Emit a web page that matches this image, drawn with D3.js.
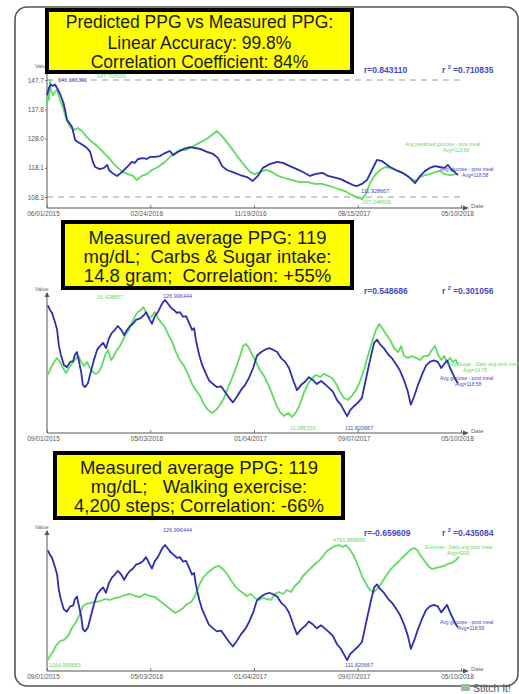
<!DOCTYPE html>
<html><head><meta charset="utf-8">
<script src="https://cdn.jsdelivr.net/npm/d3@7"></script>
<style>body{margin:0;background:#fff}svg{display:block}text{white-space:pre}</style>
</head><body><svg id="c" width="519" height="694"></svg>
<script>
// ---------------- DATA ----------------
const p1Start = "2015-06-01", p1End = "2018-05-10";
const p23Start = "2015-09-01", p23End = "2018-05-10";
const p1DateTicks = ["06/01/2015","02/24/2016","11/19/2016","08/15/2017","05/10/2018"];
const p23DateTicks = ["09/01/2015","05/03/2016","01/04/2017","09/07/2017","05/10/2018"];
const p1ValueTicks = [147.7, 137.8, 128.0, 118.1, 108.3];

const titles1 = ["Predicted PPG vs Measured PPG:", "Linear Accuracy: 99.8%", "Correlation Coefficient: 84%"];
const titles2 = ["Measured average PPG: 119", "mg/dL;  Carbs & Sugar intake:", "14.8 gram;  Correlation: +55%"];
const titles3 = ["Measured average PPG: 119", "mg/dL;   Walking exercise:", "4,200 steps; Correlation: -66%"];
const rValues = ["0.843110", "0.548686", "-0.659609"];
const r2Values = ["0.710835", "0.301056", "0.435084"];

// [days since start, value]
const p1Blue = [[0,142.6],[5,145.0],[10,146.2],[16,145.7],[21,146.2],[26,145.0],[34,143.0],[42,140.3],[47,137.6],[52,134.2],[60,132.9],[65,131.9],[73,127.5],[80,126.8],[93,125.8],[104,124.8],[112,123.5],[119,120.1],[125,118.4],[137,117.7],[148,118.1],[156,119.1],[161,117.4],[169,116.4],[182,115.4],[189,116.1],[200,117.4],[210,118.7],[220,120.1],[228,119.8],[236,121.1],[249,121.4],[259,121.1],[267,121.8],[280,121.8],[293,122.1],[306,123.1],[319,123.8],[327,122.4],[332,122.8],[340,123.5],[355,124.5],[371,125.1],[384,124.8],[397,124.5],[415,123.5],[431,122.8],[444,121.4],[454,118.7],[467,117.4],[482,116.7],[501,115.7],[519,115.0],[534,113.7],[547,115.4],[560,118.1],[578,119.4],[597,120.1],[612,119.8],[630,118.7],[648,117.7],[664,116.7],[682,115.4],[698,116.1],[716,116.4],[729,115.4],[742,115.0],[760,114.4],[778,113.3],[794,112.3],[804,112.0],[817,112.7],[830,114.0],[843,117.4],[856,120.8],[869,120.4],[879,119.4],[890,118.4],[905,117.4],[923,116.4],[939,115.0],[955,113.0],[968,115.4],[981,117.1],[993,118.1],[1006,118.7],[1019,118.4],[1032,118.1],[1040,119.1],[1048,117.7],[1058,116.7],[1066,115.7]];
const p1Green = [[0,139.3],[3,143.7],[5,141.0],[8,147.7],[10,144.3],[16,142.6],[21,143.7],[26,144.3],[34,141.0],[42,138.3],[49,134.9],[60,131.9],[70,130.9],[80,131.5],[91,130.5],[101,128.8],[117,126.8],[130,125.5],[145,123.5],[158,121.8],[174,119.4],[184,118.1],[197,116.7],[210,116.0],[223,115.4],[233,114.0],[246,115.4],[259,116.0],[272,117.4],[288,118.4],[306,120.1],[319,121.8],[332,123.1],[345,124.1],[358,124.1],[371,124.8],[389,126.1],[405,127.2],[418,128.2],[431,129.5],[441,130.5],[451,129.2],[464,127.2],[480,124.5],[495,121.8],[511,119.1],[527,116.7],[540,116.0],[552,116.7],[568,117.4],[584,116.7],[599,115.4],[617,114.7],[636,114.0],[656,113.3],[677,113.3],[695,112.7],[713,112.7],[734,112.0],[755,111.0],[773,110.3],[791,109.0],[807,108.0],[817,107.6],[827,109.3],[838,113.0],[851,115.7],[864,117.4],[877,118.4],[890,118.1],[903,117.4],[916,116.7],[929,116.0],[942,114.7],[955,113.7],[968,115.0],[981,115.7],[993,116.0],[1006,116.7],[1019,117.1],[1032,116.0],[1045,115.7],[1063,116.0]];

const p23Blue = [[2,126.3],[7,125.7],[12,125.3],[19,124.1],[24,123.1],[28,121.1],[33,119.8],[40,118.5],[47,118.2],[55,118.9],[62,119.0],[66,119.8],[71,120.2],[76,118.9],[81,117.6],[85,115.9],[90,115.6],[97,116.1],[104,117.6],[111,119.1],[119,120.5],[126,121.0],[133,121.4],[140,120.7],[147,122.0],[154,122.7],[161,123.1],[168,123.6],[176,123.1],[183,122.4],[190,123.1],[197,123.6],[204,123.9],[211,124.4],[221,124.6],[228,124.9],[235,125.4],[242,124.6],[249,123.9],[256,124.9],[263,125.4],[270,126.2],[275,126.7],[280,127.0],[287,126.5],[294,126.0],[301,125.7],[308,125.3],[315,125.4],[323,124.8],[330,124.9],[337,124.0],[344,123.1],[349,123.3],[353,121.8],[361,119.8],[368,118.5],[375,117.6],[384,116.5],[394,116.0],[403,115.6],[413,115.7],[422,115.0],[432,114.2],[441,113.6],[451,114.4],[460,115.2],[470,115.9],[479,116.8],[489,118.1],[498,119.7],[508,120.2],[517,120.5],[527,120.7],[536,120.5],[546,120.2],[555,119.4],[565,118.9],[574,118.1],[584,116.5],[593,115.2],[603,115.9],[612,116.3],[621,116.9],[631,116.5],[640,116.0],[650,116.4],[659,116.0],[669,115.5],[678,115.0],[688,113.9],[697,113.3],[707,112.3],[712,111.8],[719,112.6],[728,113.1],[738,113.6],[747,114.2],[754,116.0],[761,117.8],[769,119.8],[776,121.4],[783,121.8],[790,121.2],[799,120.7],[809,119.9],[818,119.4],[828,118.6],[837,117.8],[847,116.5],[856,115.0],[863,113.3],[871,114.4],[880,115.9],[890,117.3],[899,118.4],[908,118.9],[918,119.1],[927,118.9],[935,118.1],[942,118.6],[949,119.1],[956,118.1],[963,117.3],[970,116.5],[975,116.1]];
const p2Green = [[2,13.28],[9,13.60],[17,13.88],[24,14.07],[31,13.88],[38,13.60],[45,13.37],[52,13.60],[59,13.79],[66,13.97],[74,14.16],[81,13.88],[88,13.70],[95,13.88],[102,13.60],[109,13.42],[116,13.33],[123,13.42],[130,13.70],[138,14.21],[145,14.44],[152,13.97],[159,14.16],[166,14.44],[173,14.62],[180,14.90],[187,15.18],[194,15.36],[202,15.73],[209,16.01],[216,16.20],[223,16.29],[228,16.43],[235,16.20],[242,15.92],[249,16.01],[256,16.20],[263,15.92],[270,15.73],[278,15.55],[287,15.18],[297,14.81],[306,14.34],[315,13.97],[325,13.70],[334,13.33],[344,12.86],[353,12.58],[363,12.31],[372,11.93],[382,11.66],[391,11.52],[401,11.66],[410,11.89],[420,12.21],[429,12.68],[439,13.14],[448,13.60],[458,14.16],[465,14.62],[472,14.72],[479,14.53],[486,14.25],[496,13.88],[505,13.51],[515,13.23],[524,12.86],[534,12.40],[543,11.93],[553,11.56],[562,11.38],[572,11.52],[581,11.33],[591,11.56],[600,11.93],[610,12.49],[619,12.86],[629,13.14],[638,13.28],[648,13.19],[657,13.33],[667,13.23],[676,13.14],[686,12.86],[695,12.49],[704,12.21],[714,12.12],[723,12.31],[733,12.58],[742,12.96],[752,13.51],[761,14.16],[771,14.81],[780,15.36],[788,15.64],[795,15.45],[804,15.18],[814,14.90],[823,14.53],[833,14.34],[840,14.62],[847,14.16],[856,14.07],[866,14.16],[875,14.07],[885,13.97],[894,14.16],[904,14.16],[913,14.44],[920,14.62],[927,14.25],[935,13.97],[942,14.16],[949,13.88],[956,14.07],[963,13.88],[970,13.97],[975,13.74]];
const p3Green = [[2,1165],[7,1291],[14,1417],[21,1606],[31,1764],[40,1796],[50,1922],[59,2174],[69,2363],[78,2615],[85,2868],[93,2931],[102,2962],[114,2994],[126,3025],[138,3088],[149,3057],[161,3120],[173,3151],[185,3214],[197,3246],[209,3183],[221,3151],[232,3246],[244,3183],[256,3151],[268,3025],[280,2899],[292,2773],[304,2647],[313,2710],[323,2805],[332,2931],[342,2994],[351,3183],[361,3530],[370,3750],[380,3908],[389,4003],[398,4097],[408,4129],[417,4034],[427,3876],[436,3687],[446,3498],[455,3372],[465,3278],[474,3183],[484,3246],[493,3120],[503,3057],[512,3120],[522,3088],[531,3057],[541,3246],[550,3309],[560,3246],[569,3372],[579,3309],[588,3498],[598,3624],[607,3813],[617,3940],[626,4066],[636,4192],[645,4287],[655,4444],[664,4602],[674,4696],[683,4759],[693,4791],[702,4728],[709,4791],[719,4633],[728,4444],[738,4129],[747,3813],[757,3561],[766,3372],[776,3309],[785,3435],[795,3624],[804,3813],[814,4003],[823,4129],[833,4255],[842,4381],[852,4507],[861,4633],[871,4696],[878,4633],[885,4476],[894,4318],[904,4129],[913,4034],[923,4066],[932,4097],[942,4129],[951,4192],[961,4224],[970,4318],[977,4413]];

// annotation texts
const p1Notes = ["146.166391","147.700000","111.928667","107.248606"];
const p2Notes = ["16.428857","126.996444","11.285333","111.820667"];
const p3Notes = ["126.996444","4790.888889","1164.995883","111.820667"];
const p1Legend = ["Avg predicted glucose - post meal","Avg=118.60","Avg glucose - post meal","Avg=118.58"];
const p2Legend = ["Avg Sugar - Daily avg post meal","Avg=14.78","Avg glucose - post meal","Avg=118.58"];
const p3Legend = ["Exercise - Daily avg post meal","Avg=4200","Avg glucose - post meal","Avg=118.58"];

// ---------------- DRAW ----------------
const F = "'Liberation Sans', Arial, Helvetica, sans-serif";
const BLUE = "#2e2eb0", GREEN = "#5fdc5f", BLUE_T = "#4848cc", GREEN_T = "#6ad86a";
const svg = d3.select("#c");
const parseTick = d3.timeParse("%m/%d/%Y");

svg.append("rect").attr("x",15).attr("y",7).attr("width",503).attr("height",679)
  .attr("rx",12).attr("fill","none").attr("stroke","#555").attr("stroke-width",1.6);

function drawPanel(P){
  const t0 = new Date(P.start+"T00:00:00"), t1 = new Date(P.end+"T00:00:00");
  const x = d3.scaleTime().domain([t0,t1]).range([47,461]);
  const dt = d => d3.timeDay.offset(t0, d);
  const g = svg.append("g");

  (P.dashed||[]).forEach(v=>{
    g.append("line").attr("x1",47).attr("x2",461).attr("y1",P.yB(v)).attr("y2",P.yB(v))
      .attr("stroke","#9a9a9a").attr("stroke-width",1).attr("stroke-dasharray","6,5");
  });

  g.append("line").attr("x1",47).attr("x2",47).attr("y1",P.axisTop).attr("y2",P.axisY)
    .attr("stroke","#555").attr("stroke-width",1);
  g.append("path").attr("d",`M44.5,${P.axisTop+4}L47,${P.axisTop-1}L49.5,${P.axisTop+4}Z`).attr("fill","#555");
  g.append("line").attr("x1",47).attr("x2",465).attr("y1",P.axisY).attr("y2",P.axisY)
    .attr("stroke","#555").attr("stroke-width",1);
  g.append("path").attr("d",`M463,${P.axisY-2.5}L469,${P.axisY}L463,${P.axisY+2.5}Z`).attr("fill","#555");
  g.append("text").attr("x",471).attr("y",P.axisY).text("Date")
    .attr("font-family",F).attr("font-size",6).attr("fill","#666");
  g.append("text").attr("x",35).attr("y",P.axisTop-2).text("Value")
    .attr("font-family",F).attr("font-size",5.5).attr("fill","#666");

  const ax = d3.axisBottom(x).tickValues(P.ticks.map(parseTick))
    .tickFormat(d3.timeFormat("%m/%d/%Y")).tickSize(-3).tickPadding(3);
  const axG = g.append("g").attr("transform",`translate(0,${P.axisY})`).call(ax);
  axG.select(".domain").remove();
  axG.selectAll("line").attr("stroke","#777");
  axG.selectAll("text").attr("font-family",F).attr("font-size",6.5).attr("fill","#555").attr("dx",-4);

  if (P.yTicks){
    const ay = d3.axisLeft(P.yB).tickValues(P.yTicks).tickFormat(d3.format(".1f")).tickSize(2).tickPadding(1);
    const ayG = g.append("g").attr("transform","translate(47,0)").call(ay);
    ayG.select(".domain").remove();
    ayG.selectAll("line").attr("stroke","#777");
    ayG.selectAll("text").attr("font-family",F).attr("font-size",6.5).attr("fill","#555");
  }

  const lineG = d3.line().x(d=>x(dt(d[0]))).y(d=>P.yG(d[1]));
  const lineB = d3.line().x(d=>x(dt(d[0]))).y(d=>P.yB(d[1]));
  g.append("path").attr("d",lineG(P.green)).attr("fill","none").attr("stroke",GREEN).attr("stroke-width",1.8).attr("stroke-linejoin","round");
  g.append("path").attr("d",lineB(P.blue)).attr("fill","none").attr("stroke",BLUE).attr("stroke-width",1.8).attr("stroke-linejoin","round");

  P.notes.forEach((t,i)=>{
    const L = P.notePos[i];
    g.append("text").attr("x",L[0]).attr("y",L[1]).text(t)
      .attr("font-family",F).attr("font-size",5.5).attr("fill",L[2]==="g"?GREEN_T:BLUE_T);
  });
  P.legend.forEach((t,i)=>{
    const L = P.legendPos[i];
    g.append("text").attr("x",L[0]).attr("y",L[1]).text(t)
      .attr("font-family",F).attr("font-size",5).attr("fill",i<2?GREEN_T:BLUE_T);
  });

  g.append("text").attr("x",364).attr("y",P.rY).text("r="+P.r)
    .attr("font-family",F).attr("font-size",8.5).attr("font-weight","bold").attr("fill",BLUE_T);
  const r2 = g.append("text").attr("x",442).attr("y",P.rY)
    .attr("font-family",F).attr("font-size",8.5).attr("font-weight","bold").attr("fill",BLUE_T);
  r2.append("tspan").text("r ");
  r2.append("tspan").text("2").attr("font-size",5.5).attr("dy",-4);
  r2.append("tspan").text(" =" + P.r2).attr("dy",4);

  const B = P.box;
  g.append("rect").attr("x",B[0]).attr("y",B[1]).attr("width",B[2]).attr("height",B[3])
    .attr("fill","#ffff00").attr("stroke","#000").attr("stroke-width",4);
  P.titles.forEach((t,i)=>{
    g.append("text").attr("x",B[0]+B[2]/2).attr("y",P.titleY[i]).attr("text-anchor","middle")
      .attr("xml:space","preserve")
      .text(t).attr("font-family",F).attr("font-size",P.titleSize).attr("fill","#1a1a1a");
  });
}

drawPanel({
  start:p1Start, end:p1End, ticks:p1DateTicks, yTicks:p1ValueTicks,
  blue:p1Blue, green:p1Green,
  yB:d3.scaleLinear().domain([108.3,147.7]).range([197,80]),
  yG:d3.scaleLinear().domain([108.3,147.7]).range([197,80]),
  dashed:[147.7,108.3], axisTop:70, axisY:208,
  notes:p1Notes, notePos:[[58,82,"b"],[97,78,"g"],[361,193,"b"],[362,204,"g"]],
  legend:p1Legend, legendPos:[[405,146],[443,152],[440,171],[462,177]],
  r:rValues[0], r2:r2Values[0], rY:73,
  box:[47,10,305,62], titles:titles1, titleY:[28,49,68], titleSize:17.5
});
drawPanel({
  start:p23Start, end:p23End, ticks:p23DateTicks,
  blue:p23Blue, green:p2Green,
  yB:d3.scaleLinear().domain([111.82,127.0]).range([416,300]),
  yG:d3.scaleLinear().domain([11.285,16.43]).range([418,307]),
  axisTop:293, axisY:433,
  notes:p2Notes, notePos:[[97,299,"g"],[163,298,"b"],[290,430,"g"],[345,430,"b"]],
  legend:p2Legend, legendPos:[[448,366],[463,372],[440,380],[455,386]],
  r:rValues[1], r2:r2Values[1], rY:294,
  box:[63,222,289,66], titles:titles2, titleY:[244,263,282], titleSize:18.5
});
drawPanel({
  start:p23Start, end:p23End, ticks:p23DateTicks,
  blue:p23Blue, green:p3Green,
  yB:d3.scaleLinear().domain([111.82,127.0]).range([660,545]),
  yG:d3.scaleLinear().domain([1165,4791]).range([660,545]),
  axisTop:531, axisY:671,
  notes:p3Notes, notePos:[[163,532,"b"],[333,542,"g"],[49,667,"g"],[345,667,"b"]],
  legend:p3Legend, legendPos:[[425,549],[447,555],[440,624],[458,630]],
  r:rValues[2], r2:r2Values[2], rY:536,
  box:[55,453,288,65], titles:titles3, titleY:[474,493,512], titleSize:18.5
});

svg.append("rect").attr("x",461).attr("y",684).attr("width",9).attr("height",7).attr("fill","#9bbf9b");
svg.append("text").attr("x",473).attr("y",692).text("Stitch It!")
  .attr("font-family",F).attr("font-size",10.5).attr("fill","#555");
</script></body></html>
